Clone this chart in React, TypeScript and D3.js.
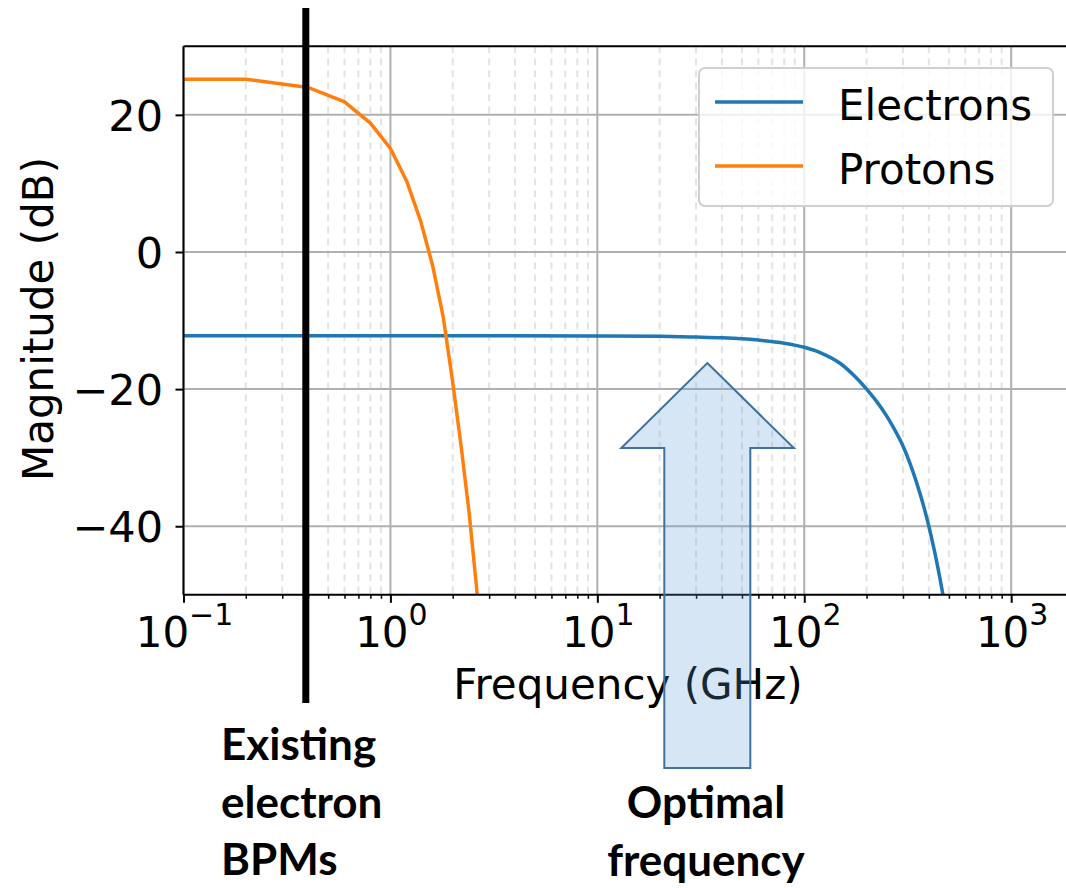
import * as d3 from 'd3';
import React, { useRef, useEffect } from 'react';

const protonFreq = [0.1, 0.2, 0.4, 0.6, 0.8, 1.0, 1.2, 1.4, 1.6, 1.8, 2.0, 2.2, 2.4, 2.6, 2.8]
const protonMag = [25.2, 25.2, 24.0, 21.9, 18.8, 15.1, 10.3, 4.5, -2.0, -9.5, -19.0, -28.5, -38.0, -48.5, -60.0]

const electronFreq = [0.1, 1, 10, 20, 30, 40, 50, 60, 80, 100, 120, 150, 175, 200, 225, 250, 275, 300,
    325, 350, 375, 400, 425, 450, 475, 500]
const electronMag = [-12.2, -12.2, -12.25, -12.3, -12.4, -12.5, -12.65, -12.85, -13.3, -13.9, -14.7, -16.3, -18.1, -20.0,
    -21.9, -23.9, -26.05, -28.3, -30.9, -33.75, -36.75, -40.0, -43.5, -47.2, -51.1, -55.2]

const seriesNames = ['Electrons', 'Protons']
const seriesColours = ['#1f77b4', '#ff7f0e']

const xTicks = [0.1, 1, 10, 100, 1000]
const xTickExp = ['\u22121', '0', '1', '2', '3']
const yTicks = [-40, -20, 0, 20]

const bpmFreq = 0.39
const optimalFreq = 34

const App = () => {
    const ref = useRef(null)

    useEffect(() => {
        d3.select(ref.current).selectAll('*').remove()
        const svg = d3.select(ref.current)

        const left = 183.5, right = 1064, top = 46.3, bottom = 594.8
        const font = 'DejaVu Sans'

        const x = d3.scaleLog().domain([0.1, 1800]).range([left, right])
        const y = d3.scaleLinear().domain([-50, 30]).range([bottom, top])

        svg.append('defs').append('clipPath').attr('id', 'plotclip')
            .append('rect').attr('x', left).attr('y', top)
            .attr('width', right - left).attr('height', bottom - top)

        // minor x grid
        const minor = []
        for (let e = -1; e <= 3; e++) {
            for (let m = 2; m <= 9; m++) {
                const v = m * Math.pow(10, e)
                if (v < 1800) minor.push(v)
            }
        }
        svg.append('g').selectAll('line').data(minor).enter().append('line')
            .attr('x1', d => x(d)).attr('x2', d => x(d))
            .attr('y1', top).attr('y2', bottom)
            .attr('stroke', '#e3e3e3').attr('stroke-width', 2)
            .attr('stroke-dasharray', '7,5')

        // major grid
        svg.append('g').selectAll('line').data(xTicks).enter().append('line')
            .attr('x1', d => x(d)).attr('x2', d => x(d))
            .attr('y1', top).attr('y2', bottom)
            .attr('stroke', '#b0b0b0').attr('stroke-width', 2)
        svg.append('g').selectAll('line').data(yTicks).enter().append('line')
            .attr('x1', left).attr('x2', right + 5)
            .attr('y1', d => y(d)).attr('y2', d => y(d))
            .attr('stroke', '#b0b0b0').attr('stroke-width', 2)

        const line = d3.line()
            .x(d => x(d[0])).y(d => y(d[1]))

        const plot = svg.append('g').attr('clip-path', 'url(#plotclip)')
        plot.append('path')
            .datum(electronFreq.map((f, i) => [f, electronMag[i]]))
            .attr('d', line.curve(d3.curveMonotoneX))
            .attr('fill', 'none').attr('stroke', seriesColours[0]).attr('stroke-width', 3.5)
        plot.append('path')
            .datum(protonFreq.map((f, i) => [f, protonMag[i]]))
            .attr('d', line.curve(d3.curveLinear))
            .attr('fill', 'none').attr('stroke', seriesColours[1]).attr('stroke-width', 3.5)

        // axes
        const xAxis = svg.append('g')
            .attr('transform', `translate(0, ${bottom})`)
            .call(d3.axisBottom(x).tickValues(xTicks).tickSize(8).tickFormat(() => ''))
        xAxis.select('.domain').attr('stroke-width', 2).attr('d', `M${left},0H${right + 5}`)
        xAxis.selectAll('.tick line').attr('stroke-width', 2)
        svg.append('g')
            .attr('transform', `translate(0, ${bottom})`)
            .call(d3.axisBottom(x).tickValues(minor).tickSize(4).tickFormat(() => ''))
            .call(g => g.select('.domain').remove())
            .selectAll('.tick line').attr('stroke-width', 1.5)

        xTicks.forEach((t, i) => {
            const txt = svg.append('text')
                .attr('x', x(t) + 1).attr('y', 647)
                .attr('text-anchor', 'middle')
                .style('font-family', font).style('font-size', '42px')
            txt.append('tspan').text('10')
            txt.append('tspan').attr('dy', -22).style('font-size', '30px').text(xTickExp[i])
        })

        const yAxis = svg.append('g')
            .attr('transform', `translate(${left}, 0)`)
            .call(d3.axisLeft(y).tickValues(yTicks).tickSize(8).tickFormat(() => ''))
        yAxis.select('.domain').attr('stroke-width', 2).attr('d', `M0,${bottom}V${top}`)
        yAxis.selectAll('.tick line').attr('stroke-width', 2)

        svg.append('g').selectAll('text').data(yTicks).enter().append('text')
            .attr('x', 163).attr('y', d => y(d) + 16)
            .attr('text-anchor', 'end')
            .style('font-family', font).style('font-size', '43px')
            .text(d => d < 0 ? '\u2212' + Math.abs(d) : String(d))

        // top spine
        svg.append('line').attr('x1', left).attr('x2', right + 5)
            .attr('y1', top).attr('y2', top)
            .attr('stroke', 'black').attr('stroke-width', 2)

        svg.append('text')
            .attr('x', 628).attr('y', 699)
            .attr('text-anchor', 'middle')
            .style('font-family', font).style('font-size', '42px')
            .text('Frequency (GHz)')

        svg.append('text')
            .attr('transform', 'translate(53, 319) rotate(-90)')
            .attr('text-anchor', 'middle')
            .style('font-family', font).style('font-size', '42px')
            .text('Magnitude (dB)')

        // legend
        const legend = svg.append('g')
        legend.append('rect')
            .attr('x', 699).attr('y', 68).attr('width', 354).attr('height', 138)
            .attr('rx', 6)
            .attr('fill', 'white').attr('fill-opacity', 0.8)
            .attr('stroke', '#d0d0d0').attr('stroke-width', 2)
        seriesNames.forEach((name, i) => {
            const ly = 102 + i * 64
            legend.append('line')
                .attr('x1', 715).attr('x2', 803).attr('y1', ly).attr('y2', ly)
                .attr('stroke', seriesColours[i]).attr('stroke-width', 3.5)
            legend.append('text')
                .attr('x', 838).attr('y', ly + 18)
                .style('font-family', font).style('font-size', '42px')
                .text(name)
        })

        // existing BPM marker
        svg.append('line')
            .attr('x1', x(bpmFreq)).attr('x2', x(bpmFreq))
            .attr('y1', 8).attr('y2', 703)
            .attr('stroke', 'black').attr('stroke-width', 7)

        // optimal frequency arrow
        const cx = x(optimalFreq)
        const tipY = y(-16.2), wingY = y(-28.6), baseY = 768
        const pts = [
            [cx, tipY], [cx + 86.5, wingY], [cx + 43, wingY], [cx + 43, baseY],
            [cx - 43, baseY], [cx - 43, wingY], [cx - 86, wingY]
        ]
        svg.append('polygon')
            .attr('points', pts.map(p => p.join(',')).join(' '))
            .attr('fill', '#5b9bd5').attr('fill-opacity', 0.25)
            .attr('stroke', '#41719c').attr('stroke-width', 2)

        const bold = svg.append('g')
            .style('font-family', 'Lato').style('font-weight', 'bold').style('font-size', '44px')
        const note1 = ['Existing', 'electron', 'BPMs']
        note1.forEach((t, i) => {
            bold.append('text').attr('x', 221).attr('y', 760 + i * 57.5).text(t)
        })
        const note2 = ['Optimal', 'frequency']
        note2.forEach((t, i) => {
            bold.append('text').attr('x', 706).attr('y', 818 + i * 57.5)
                .attr('text-anchor', 'middle').text(t)
        })
    }, [])

    return (
        <svg ref={ref} width={1066} height={888}
            style={{ position: 'absolute', left: 0, top: 0, background: 'white' }}>
        </svg>
    )
}

export default App
